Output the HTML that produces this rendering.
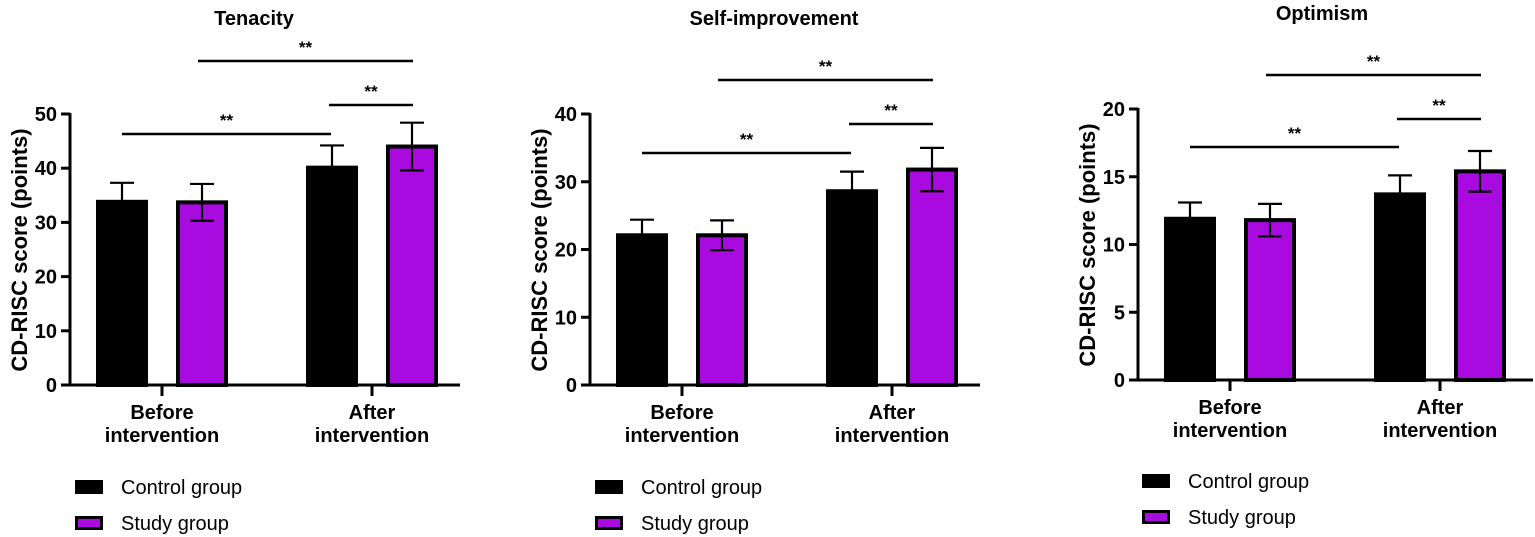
<!DOCTYPE html>
<html><head><meta charset="utf-8"><style>
html,body{margin:0;padding:0;background:#fff;}
svg{display:block;font-family:"Liberation Sans",Arial,sans-serif;}
</style></head><body>
<svg id="c" width="1535" height="537" viewBox="0 0 1535 537"></svg>
<script>
const categories = ["Before intervention","After intervention"];
const seriesNames = ["Control group","Study group"];
const panelTitles = ["Tenacity","Self-improvement","Optimism"];
const tenacityMeans = [33.8, 33.7, 40.1, 44.0];
const tenacityErr = [3.5, 3.4, 4.1, 4.4];
const selfImpMeans = [22.1, 22.1, 28.6, 31.8];
const selfImpErr = [2.3, 2.2, 2.9, 3.2];
const optimismMeans = [11.9, 11.8, 13.7, 15.4];
const optimismErr = [1.2, 1.2, 1.4, 1.5];
const tenacityTicks = [0,10,20,30,40,50];
const selfImpTicks = [0,10,20,30,40];
const optimismTicks = [0,5,10,15,20];
const sigLabel = "**";

const NS="http://www.w3.org/2000/svg";
const svg=document.getElementById('c');
function mk(tag,attrs,parent){const e=document.createElementNS(NS,tag);for(const k in attrs)e.setAttribute(k,attrs[k]);(parent||svg).appendChild(e);return e;}

const panels=[
 {title:panelTitles[0],means:tenacityMeans,err:tenacityErr,ticks:tenacityTicks,ax:70,y0:385,yTop:114,xEnd:460,titleX:254,titleY:25,ytX:27,ytY:250,sig:[134,105,61],legX:75,legY:480},
 {title:panelTitles[1],means:selfImpMeans,err:selfImpErr,ticks:selfImpTicks,ax:590,y0:385,yTop:114,xEnd:980,titleX:774,titleY:25,ytX:547,ytY:250,sig:[153,124,80],legX:595,legY:480},
 {title:panelTitles[2],means:optimismMeans,err:optimismErr,ticks:optimismTicks,ax:1138,y0:380,yTop:109,xEnd:1533,titleX:1322,titleY:20,ytX:1095,ytY:245,sig:[147,119,75],legX:1142,legY:474}
];
const colors=["#000000","#a90ae0"];

panels.forEach((p,pi)=>{
  const g=mk('g',{});
  
  
  const ymax=p.ticks[p.ticks.length-1];
  const Y=v=>p.y0-(v/ymax)*(p.y0-p.yTop);
  const groupX=i=>p.ax+92+i*210;
  const barX=(gi,si)=>groupX(gi)+(si===0?-40:40);
  const t=mk('text',{x:p.titleX,y:p.titleY,'text-anchor':'middle','font-size':20,'font-weight':'bold'},g);
  t.textContent=p.title;
  
  
  const yt=mk('text',{x:p.ytX,y:p.ytY,'text-anchor':'middle','font-size':22,'font-weight':'bold',transform:`rotate(-90 ${p.ytX} ${p.ytY})`},g);
  yt.textContent="CD-RISC score (points)";
  
  
  p.means.forEach((v,k)=>{
    const gi=Math.floor(k/2),si=k%2;
    const cx=barX(gi,si);
    const r=mk('rect',{x:cx-24,y:Y(v),width:48,height:p.y0-Y(v),fill:colors[si],stroke:'#000','stroke-width':4},g);
    
    
    const e=p.err[k];
    const eg=mk('g',{stroke:'#000','stroke-width':2.2},g);
    
    
    const lo=si?Y(v-e):Y(v);
    mk('line',{x1:cx,x2:cx,y1:Y(v+e),y2:lo},eg);
    mk('line',{x1:cx-12,x2:cx+12,y1:Y(v+e),y2:Y(v+e)},eg);
    if(si) mk('line',{x1:cx-12,x2:cx+12,y1:Y(v-e),y2:Y(v-e)},eg);
  });
  const axg=mk('g',{stroke:'#000','stroke-width':3},g);
  
  
  mk('line',{x1:p.ax,x2:p.ax,y1:p.yTop-1,y2:p.y0+1},axg);
  mk('line',{x1:p.ax-1,x2:p.xEnd,y1:p.y0,y2:p.y0},axg);
  p.ticks.forEach(tv=>{
    mk('line',{x1:p.ax-9,x2:p.ax,y1:Y(tv),y2:Y(tv)},axg);
    const tl=mk('text',{x:p.ax-13,y:Y(tv)+7,'text-anchor':'end','font-size':20,'font-weight':'bold'},g);
    tl.textContent=tv;
    
    
  });
  categories.forEach((c,i)=>{
    mk('line',{x1:groupX(i),x2:groupX(i),y1:p.y0,y2:p.y0+11},axg);
    const parts=c.split(' ');
    parts.forEach((w,j)=>{
      const tl=mk('text',{x:groupX(i),y:p.y0+34+j*23,'text-anchor':'middle','font-size':20,'font-weight':'bold'},g);
      tl.textContent=w;
      
      
    });
  });
  const sigs=[[barX(0,0),barX(1,0)-1],[barX(1,0)-3,barX(1,1)+1],[barX(0,1)-4,barX(1,1)+1]];
  sigs.forEach((s,j)=>{
    const l=mk('line',{x1:s[0],x2:s[1],y1:p.sig[j],y2:p.sig[j],stroke:'#000','stroke-width':2.6},g);
    
    
    const st=mk('text',{x:(s[0]+s[1])/2,y:p.sig[j]-8,'text-anchor':'middle','font-size':17,'font-weight':'bold'},g);
    st.textContent=sigLabel;
    
    
  });
  seriesNames.forEach((n,si)=>{
    const ly=p.legY+si*36;
    const lg=mk('g',{},g);
    
    
    mk('rect',{x:p.legX+1.5,y:ly+1.5,width:25,height:11,fill:colors[si],stroke:'#000','stroke-width':3},lg);
    const lt=mk('text',{x:p.legX+46,y:ly+14,'font-size':20},lg);
    lt.textContent=n;
  });
});
</script>
</body></html>
